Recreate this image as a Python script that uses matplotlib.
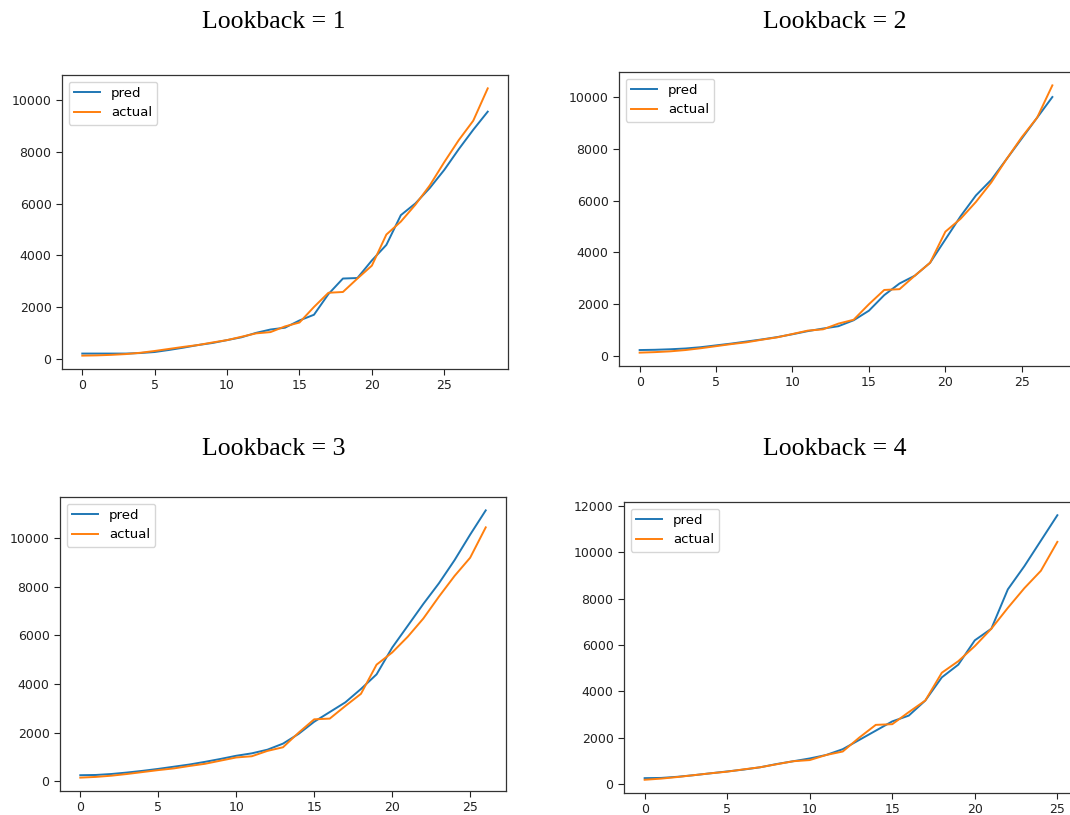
import matplotlib
matplotlib.use('Agg')
import matplotlib.pyplot as plt

# actual series (shared, each lookback drops one more leading point)
actual_full = [120, 130, 150, 180, 230, 300, 380, 460, 530, 630,
               720, 850, 980, 1030, 1250, 1400, 2000, 2550, 2580, 3100,
               3600, 4800, 5300, 5950, 6700, 7600, 8450, 9200, 10450]

pred_lb1 = [200, 200, 200, 200, 220, 260, 340, 430, 530, 610,
            720, 830, 1000, 1130, 1200, 1480, 1700, 2500, 3100, 3120,
            3800, 4400, 5550, 6000, 6600, 7300, 8100, 8850, 9550]
pred_lb2 = [230, 240, 260, 290, 340, 410, 480, 560, 640, 730,
            840, 960, 1060, 1150, 1380, 1750, 2350, 2800, 3100, 3600,
            4500, 5400, 6200, 6800, 7600, 8400, 9200, 10000]
pred_lb3 = [250, 260, 300, 360, 430, 510, 600, 690, 800, 920,
            1050, 1150, 1300, 1550, 1950, 2450, 2850, 3250, 3800, 4400,
            5500, 6400, 7300, 8150, 9100, 10150, 11150]
pred_lb4 = [250, 260, 310, 380, 460, 540, 620, 720, 860, 980,
            1100, 1250, 1500, 1900, 2300, 2700, 2950, 3600, 4600, 5150,
            6200, 6700, 8400, 9400, 10500, 11600]

preds = [pred_lb1, pred_lb2, pred_lb3, pred_lb4]
titles = ['Lookback = 1', 'Lookback = 2', 'Lookback = 3', 'Lookback = 4']

W, H = 1070, 815
# axes boxes in pixels: left, top, right, bottom
boxes = [(62, 75, 508, 369), (619, 72, 1073, 366),
         (60, 497, 506, 791), (624, 502, 1078, 793)]
title_pos = [(274, 28), (835, 28), (274, 455), (835, 455)]

fig = plt.figure(figsize=(W / 100, H / 100), dpi=100)

for k in range(4):
    l, t, r, b = boxes[k]
    ax = fig.add_axes([l / W, 1 - b / H, (r - l) / W, (b - t) / H])
    pred = preds[k]
    actual = actual_full[k:]
    ax.plot(range(len(pred)), pred, color='#1f77b4', lw=1.4, label='pred')
    ax.plot(range(len(actual)), actual, color='#ff7f0e', lw=1.4, label='actual')
    ax.tick_params(labelsize=9, length=4, width=0.8, colors='#222222')
    for s in ax.spines.values():
        s.set_linewidth(0.9)
        s.set_color('#333333')
    ax.set_xticks([0, 5, 10, 15, 20, 25])
    ax.legend(loc='upper left', fontsize=9.5)
    tx, ty = title_pos[k]
    fig.text(tx / W, 1 - ty / H, titles[k], ha='center', va='baseline',
             fontsize=18.5, family='Liberation Serif')

plt.savefig('out.png', dpi=100)
